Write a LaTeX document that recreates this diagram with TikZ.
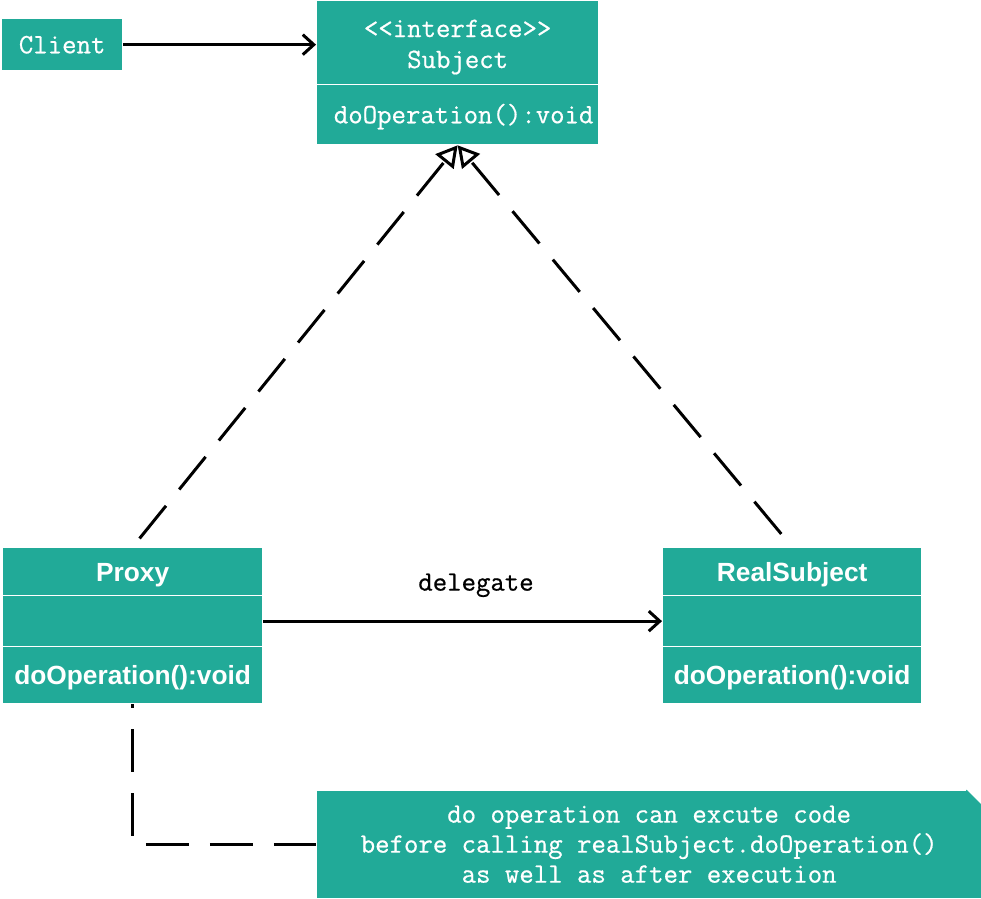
\documentclass[tikz,border=0pt]{standalone}
\usepackage{fontspec}
\newfontfamily\arialf{Liberation Sans}
\newfontfamily\monof{Latin Modern Mono}[FakeBold=0.6]
\usetikzlibrary{arrows.meta}
\definecolor{teal1}{RGB}{33,170,152}
\begin{document}
\begin{tikzpicture}[x=1pt,y=-1pt,
  box/.style={fill=teal1, draw=white, line width=1.3pt, inner sep=0pt, anchor=north west, align=center},
  monofont/.style={font=\monof\fontsize{28}{30}\selectfont},
  mono/.style={monofont, text=white, text height=23pt, text depth=5.8pt},
  sans/.style={text=white, font=\arialf\bfseries\fontsize{26.3}{30}\selectfont, text height=24pt, text depth=5.2pt},
  conn/.style={line width=3pt, black},
  dep/.style={conn, dash pattern=on 42pt off 21pt, -{Triangle[open,length=21pt,width=23pt]}},
  assoc/.style={conn, -{Straight Barb[length=11pt,width=20pt]}}]
\useasboundingbox (0,0) rectangle (981,898);

% Client
\node[box, mono, minimum width=121pt, minimum height=52pt] (client) at (1,18) {Client};

% Subject
\node[box, minimum width=282pt, minimum height=84pt] (subjecttitle) at (316,0) {};
\node[monofont, text=white, anchor=base, inner sep=0pt] (ifacetext) at ([yshift=-37pt]subjecttitle.north) {<{}<interface>{}>};
\node[monofont, text=white, anchor=base, inner sep=0pt] (subjecttext) at ([yshift=-68pt]subjecttitle.north) {Subject};
\node[box, mono, minimum width=282pt, minimum height=60pt] (subjectops) at (316,84) {\hspace{12pt}doOperation():void};

% Proxy
\node[box, sans, minimum width=260pt, minimum height=48pt] (proxytitle) at (2,547) {Proxy};
\node[box, minimum width=260pt, minimum height=51pt] (proxyattr) at (2,595) {};
\node[box, sans, minimum width=260pt, minimum height=57pt] (proxyops) at (2,646) {doOperation():void};

% RealSubject
\node[box, sans, minimum width=259pt, minimum height=48pt] (rstitle) at (662,547) {RealSubject};
\node[box, minimum width=259pt, minimum height=51pt] (rsattr) at (662,595) {};
\node[box, sans, minimum width=259pt, minimum height=57pt] (rsops) at (662,646) {doOperation():void};

% Note
\node[box, monofont, text=white, draw=none, minimum width=665pt, minimum height=107pt] (note) at (316,790)
  {do operation can excute code\\before calling realSubject.doOperation()\\as well as after execution};
\coordinate (foldA) at ([xshift=-16pt]note.north east);
\coordinate (foldB) at ([yshift=-16pt]note.north east);
\fill[white] (foldA) -- (note.north east) -- (foldB) -- cycle;
\draw[teal1, line width=0.8pt] (foldA) -- (foldB);

% Connectors
\draw[assoc] (client.east) -- (client.east -| subjecttitle.west);
\draw[assoc] (proxyattr.east) -- (rsattr.west);
\node[mono, text=black, inner sep=0pt] (dlabel) at (476,582) {delegate};

\draw[dep, dash phase=52pt] (proxytitle.north) -- (subjectops.south);
\draw[dep, dash phase=46pt] (rstitle.north) -- (subjectops.south);

\draw[conn, dash pattern=on 43pt off 21pt, dash phase=39pt] (proxyops.south) |- (note.west);
\end{tikzpicture}
\end{document}
